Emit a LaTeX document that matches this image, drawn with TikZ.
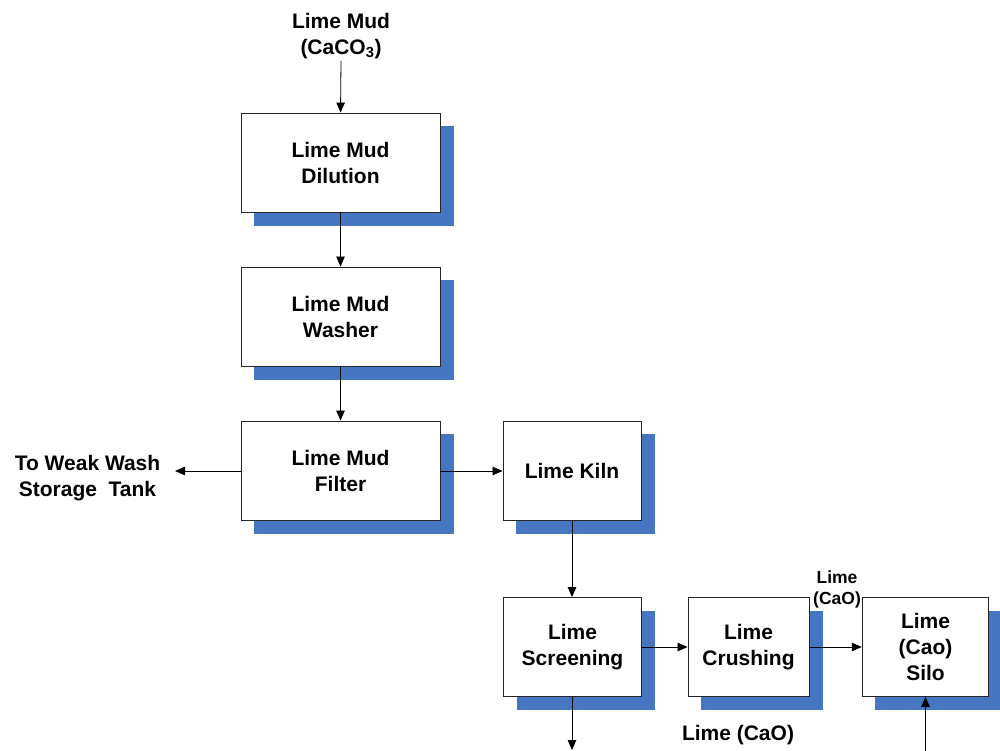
\documentclass[tikz,border=0pt]{standalone}
\usepackage{fontspec}
\setmainfont{Liberation Sans}
\usetikzlibrary{arrows.meta,backgrounds}
\definecolor{shadowblue}{RGB}{70,117,193}
\tikzset{
  x=1pt, y=-1pt,
  every node/.style={font=\fontsize{21}{26}\selectfont\bfseries, align=center},
  procbox/.style={draw=black!85, line width=0.9pt, fill=white, inner sep=0pt, minimum height=99pt},
  flow/.style={draw=black, line width=0.8pt, -{Triangle[length=10pt,width=8.5pt]}},
  smalllabel/.style={font=\fontsize{17.5}{21}\selectfont\bfseries},
}
\newcommand{\boxshadow}[1]{%
  \fill[shadowblue] ([xshift=13.5pt,yshift=-13.5pt]#1.south west) rectangle ([xshift=13.5pt,yshift=-13.5pt]#1.north east);}
\begin{document}
\begin{tikzpicture}
\useasboundingbox (0,0) rectangle (1000,751);

% process blocks
\node[procbox, minimum width=199pt] (dil) at (340.5,162.5) {Lime Mud\\Dilution};
\node[procbox, minimum width=199pt] (wash) at (340.5,316.5) {Lime Mud\\Washer};
\node[procbox, minimum width=199pt] (filt) at (340.5,470.5) {Lime Mud\\Filter};
\node[procbox, minimum width=138pt] (kiln) at (572,470.5) {Lime Kiln};
\node[procbox, minimum width=138pt] (scr) at (572.5,647) {Lime\\Screening};
\node[procbox, minimum width=121pt] (crush) at (748.5,647) {Lime\\Crushing};
\node[procbox, minimum width=126.5pt] (silo) at (925.5,647) {Lime\\(Cao)\\Silo};

% drop shadows behind the blocks
\begin{scope}[on background layer]
  \foreach \b in {dil,wash,filt,kiln,scr,crush,silo} {\boxshadow{\b}}
\end{scope}

% free labels
\node (feed) at (341,36) {Lime Mud\\(CaCO\textsubscript{3})};
\node (weak) at (87.5,478) {To Weak Wash\\Storage\ \ Tank};
\node[smalllabel] (cao1) at (837,589.5) {Lime\\(CaO)};
\node (cao2) at (738,735) {Lime (CaO)};

\coordinate (feedend) at (341,61);
\coordinate (weakend) at (175,471);
\coordinate (scrout) at (572.5,751);
\coordinate (siloin) at (925.5,751);

% connectors
\draw[flow] (feedend) -- (dil.north);
\draw[flow] (dil) -- (wash);
\draw[flow] (wash) -- (filt);
\draw[flow] (filt.west |- 0,471) -- (weakend);
\draw[flow] (filt.east |- 0,471) -- (kiln.west |- 0,471);
\draw[flow] (kiln.south -| 572,0) -- (scr.north -| 572,0);
\draw[flow] (scr) -- (crush);
\draw[flow] (crush) -- (silo);
\draw[flow] (scr.south -| 572,0) -- (572,750);
\draw[flow] (siloin) -- (silo.south);
\end{tikzpicture}
\end{document}
